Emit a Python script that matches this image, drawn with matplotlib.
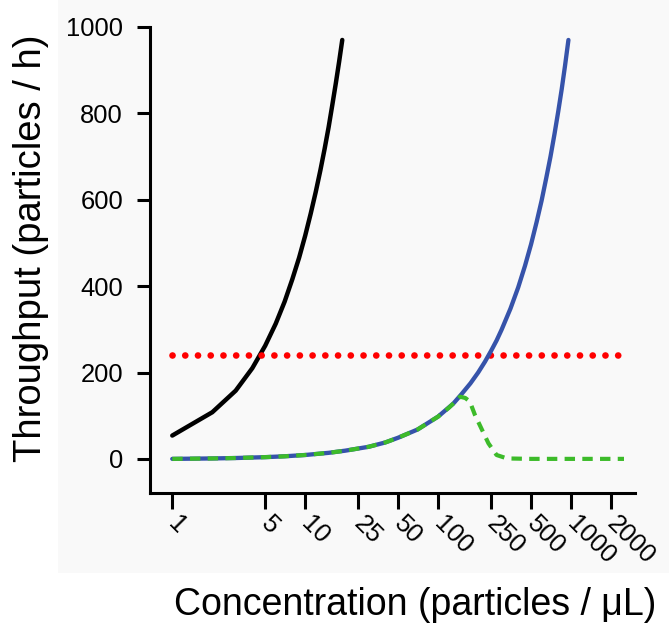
import matplotlib
matplotlib.use("Agg")
import matplotlib.pyplot as plt
from matplotlib.patches import Rectangle

plt.rcParams['font.family'] = ['Liberation Sans', 'DejaVu Sans']

# data
black_x = [1, 2, 3, 4, 5, 6, 7, 8, 9, 10, 11, 12, 13, 14, 15, 16, 17, 18, 19]
black_y = [54, 108, 158, 210, 262, 313, 364, 416, 466, 517, 568, 618, 668,
           718, 768, 820, 870, 920, 970]

blue_x = [1, 2, 3, 5, 7, 10, 15, 20, 30, 40, 50, 70, 100, 130, 150, 175,
          200, 225, 250, 275, 300, 350, 400, 450, 500, 550, 600, 650, 700,
          750, 800, 850, 900, 955]
blue_y = [0, 1, 2, 4, 6, 9, 14, 19, 28, 38, 49, 68, 98, 128, 150, 175,
          200, 225, 250, 274, 299, 348, 397, 447, 497, 548, 598, 650, 700,
          752, 804, 856, 910, 970]

green_x = [1, 2, 3, 5, 7, 10, 15, 20, 30, 40, 50, 70, 100, 120, 135, 146,
           160, 173, 189, 214, 239, 275, 330, 500, 1000, 2500]
green_y = [0, 1, 2, 4, 6, 9, 14, 19, 28, 38, 49, 68, 98, 118, 133, 144,
           141, 133, 102, 67, 36, 9, 1, 0, 0, 0]

red_x = [1, 2500]
red_y = [240, 240]

xticks = [1, 5, 10, 25, 50, 100, 250, 500, 1000, 2000]
yticks = [0, 200, 400, 600, 800, 1000]

W, H = 669, 630
fig = plt.figure(figsize=(W / 100, H / 100), dpi=100)
fig.patch.set_facecolor('white')
fig.patches.append(Rectangle((58 / W, 1 - 573 / H), 1, 1, transform=fig.transFigure,
                             facecolor='#f9f9f9', edgecolor='none', zorder=-10))

ax = fig.add_axes([150 / W, 1 - 493 / H, (635 - 150) / W, (493 - 27) / H])
ax.patch.set_alpha(0)

ax.plot(black_x, black_y, color='black', lw=3.2, solid_capstyle='round')
ax.plot(red_x, red_y, color='#ff0000', lw=4.8, linestyle=(0, (0.01, 1.9)),
        dash_capstyle='round')
ax.plot(blue_x, blue_y, color='#3653aa', lw=3.1, solid_capstyle='round')
ax.plot(green_x, green_y, color='#3dbb2a', lw=3.0, linestyle=(0, (2.5, 1.75)))

ax.set_xscale('log')
ax.set_xlim(0.68, 3025)
ax.set_ylim(-79, 1000)

for s in ['top', 'right']:
    ax.spines[s].set_visible(False)
for s in ['left', 'bottom']:
    ax.spines[s].set_linewidth(2.2)

ax.set_yticks(yticks)
ax.set_yticklabels([str(v) for v in yticks], fontsize=18.4)
ax.tick_params(axis='y', length=9.4, width=2.2, pad=10)

ax.set_xticks(xticks)
ax.xaxis.set_minor_locator(matplotlib.ticker.NullLocator())
ax.set_xticklabels([str(v) for v in xticks], fontsize=18.4, rotation=-45,
                   ha='left', va='center', rotation_mode='anchor')
ax.tick_params(axis='x', length=11.5, width=2.2, pad=8)

fig.text(31 / W, 1 - 248 / H, 'Throughput (particles / h)', rotation=90,
         fontsize=27.5, ha='center', va='center')
fig.text(415 / W, 1 - 605 / H, 'Concentration (particles / μL)',
         fontsize=27, ha='center', va='center')

fig.savefig('out.png', dpi=100)
